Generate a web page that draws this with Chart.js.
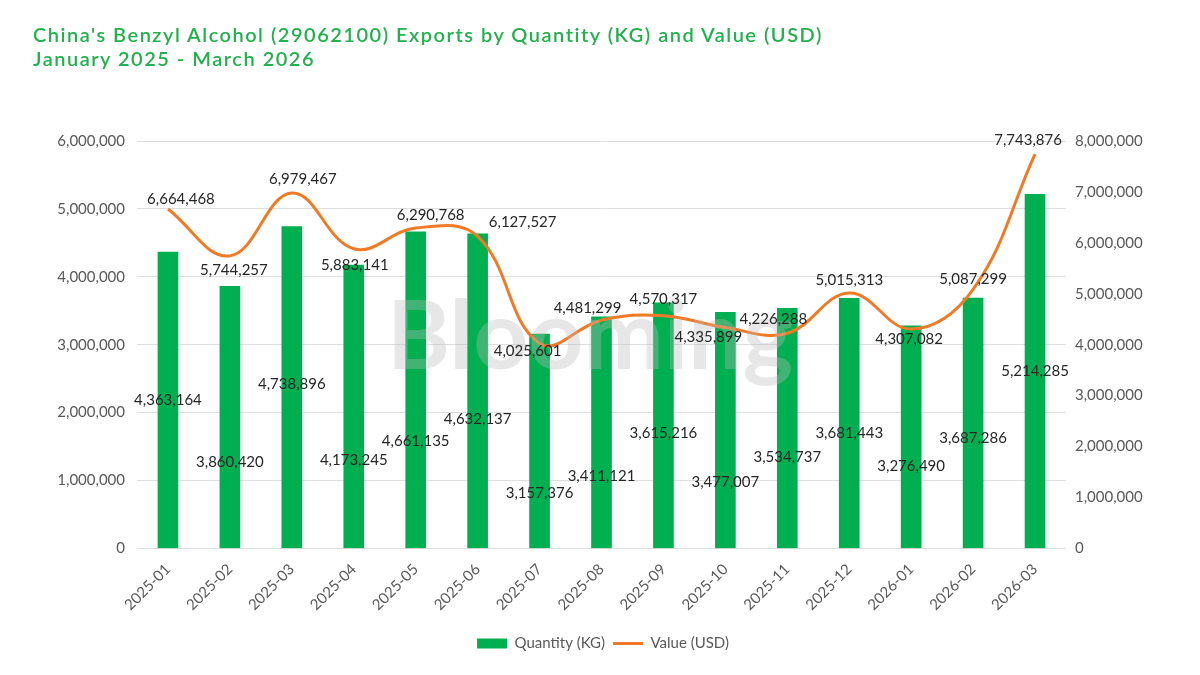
<!DOCTYPE html>
<html>
<head>
<meta charset="utf-8">
<script src="https://cdn.jsdelivr.net/npm/chart.js@4/dist/chart.umd.min.js"></script>
<style>
  body { margin: 0; background: #fff; }
  .wrap { position: relative; width: 1200px; height: 675px; }
  .title {
    position: absolute; left: 33px; top: 22px;
    font-family: Lato, "Noto Sans", sans-serif; font-size: 20px; font-weight: 600;
    letter-spacing: 1.5px; line-height: 24px; color: #22b14c;
  }
  canvas { position: absolute; left: 0; top: 0; }
</style>
</head>
<body>
<div class="wrap">
  <canvas id="chart" width="1200" height="675"></canvas>
  <div class="title">China's Benzyl Alcohol (29062100) Exports by Quantity (KG) and Value (USD)<br>January 2025 - March 2026</div>
</div>
<script>
const months = [
  "2025-01", "2025-02", "2025-03", "2025-04", "2025-05", "2025-06", "2025-07",
  "2025-08", "2025-09", "2025-10", "2025-11", "2025-12", "2026-01", "2026-02", "2026-03",
];
const quantityKg = [
  4363164, 3860420, 4738896, 4173245, 4661135, 4632137, 3157376,
  3411121, 3615216, 3477007, 3534737, 3681443, 3276490, 3687286, 5214285,
];
const valueUsd = [
  6664468, 5744257, 6979467, 5883141, 6290768, 6127527, 4025601,
  4481299, 4570317, 4335899, 4226288, 5015313, 4307082, 5087299, 7743876,
];

// where each label sits (style only): share of bar height, and shift from the line point
const qtyLabelAt = [0.5, 0.33, 0.51, 0.31, 0.34, 0.41, 0.26, 0.31, 0.47, 0.28, 0.38, 0.46, 0.37, 0.44, 0.5];
const valueLabelShift = [
  [13, -10], [4, 14], [11, -14], [1, 16], [15, -13], [45, -14], [-12, 8],
  [-14, -12], [0, -17], [-17, 10], [-14, -14], [0, -13], [-2, 10], [0, -10], [-7, -14],
];

const fmt = (v) => v.toLocaleString("en-US");
const FONT = "Lato, 'Noto Sans', sans-serif";

const labelPlugin = {
  id: "valueLabels",
  afterDatasetsDraw(chart) {
    const ctx = chart.ctx;
    ctx.save();
    // watermark
    ctx.font = "bold 96px " + FONT;
    ctx.fillStyle = "rgba(185,185,185,0.35)";
    ctx.textAlign = "center";
    ctx.textBaseline = "middle";
    ctx.fillText("Blooming", 590, 338);

    ctx.font = "15px " + FONT;
    ctx.fillStyle = "#262626";
    const base = chart.scales.y.getPixelForValue(0);
    chart.getDatasetMeta(0).data.forEach((bar, i) => {
      ctx.fillText(fmt(quantityKg[i]), bar.x, base + (bar.y - base) * qtyLabelAt[i]);
    });
    chart.getDatasetMeta(1).data.forEach((pt, i) => {
      const [dx, dy] = valueLabelShift[i];
      ctx.fillText(fmt(valueUsd[i]), pt.x + dx, pt.y + dy);
    });
    ctx.restore();
  },
};

new Chart(document.getElementById("chart"), {
  type: "bar",
  data: {
    labels: months,
    datasets: [
      {
        type: "bar",
        label: "Quantity (KG)",
        data: quantityKg,
        backgroundColor: "#00b050",
        barThickness: 20,
        yAxisID: "y",
        order: 2,
      },
      {
        type: "line",
        label: "Value (USD)",
        data: valueUsd,
        borderColor: "#f07a25",
        backgroundColor: "#f07a25",
        borderWidth: 3,
        tension: 0.4,
        pointRadius: 0,
        pointStyle: "line",
        yAxisID: "y1",
        order: 1,
      },
    ],
  },
  options: {
    responsive: false,
    animation: false,
    devicePixelRatio: 1,
    layout: { padding: { top: 141, left: 40, right: 34, bottom: 14 } },
    scales: {
      x: {
        grid: { display: false },
        border: { display: false },
        ticks: {
          color: "#595959",
          font: { family: FONT, size: 15 },
          maxRotation: 45,
          minRotation: 45,
          padding: 4,
        },
        afterFit: (s) => { s.height += 10; },
      },
      y: {
        min: 0,
        max: 6000000,
        ticks: {
          stepSize: 1000000,
          color: "#595959",
          font: { family: FONT, size: 15 },
          padding: 12,
          callback: (v) => fmt(v),
        },
        grid: { color: "#dedede", drawTicks: false },
        border: { display: false },
        afterFit: (s) => { s.width = 97; },
      },
      y1: {
        position: "right",
        min: 0,
        max: 8000000,
        ticks: {
          stepSize: 1000000,
          color: "#595959",
          font: { family: FONT, size: 15 },
          padding: 9,
          callback: (v) => fmt(v),
        },
        grid: { drawOnChartArea: false, drawTicks: false },
        border: { display: false },
        afterFit: (s) => { s.width = 100; },
      },
    },
    plugins: {
      legend: {
        position: "bottom",
        labels: {
          usePointStyle: true,
          pointStyleWidth: 30,
          boxHeight: 10,
          color: "#595959",
          font: { family: FONT, size: 15 },
          padding: 8,
          generateLabels: (chart) =>
            Chart.defaults.plugins.legend.labels
              .generateLabels(chart)
              .sort((a, b) => a.datasetIndex - b.datasetIndex)
              .map((item) => ({
                ...item,
                pointStyle: item.datasetIndex === 0 ? "rect" : "line",
                lineWidth: item.datasetIndex === 0 ? 0 : 3,
              })),
        },
      },
      tooltip: { enabled: false },
    },
  },
  plugins: [labelPlugin],
});
</script>
</body>
</html>
